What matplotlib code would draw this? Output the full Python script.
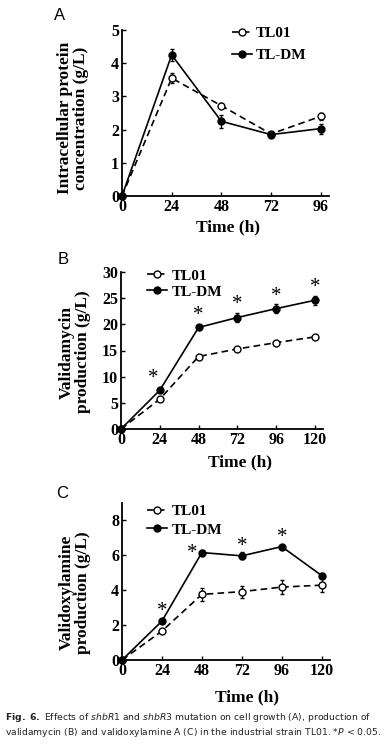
import matplotlib
matplotlib.use("Agg")
import matplotlib.pyplot as plt

# ---- data ----
time_a = [0, 24, 48, 72, 96]
a_tl01 = [0, 3.55, 2.72, 1.87, 2.40]
a_tl01_err = [0, 0.15, 0.08, 0.06, 0.10]
a_tldm = [0, 4.25, 2.25, 1.85, 2.03]
a_tldm_err = [0, 0.17, 0.20, 0.08, 0.15]

time_bc = [0, 24, 48, 72, 96, 120]
b_tl01 = [0, 5.7, 13.85, 15.3, 16.5, 17.6]
b_tl01_err = [0, 0.3, 0.3, 0.4, 0.3, 0.4]
b_tldm = [0, 7.4, 19.4, 21.3, 23.0, 24.6]
b_tldm_err = [0, 0.3, 0.4, 0.9, 0.9, 0.9]
b_star_x = [20, 48, 72, 96, 120]
b_star_y = [9.6, 21.6, 23.7, 25.4, 27.1]

c_tl01 = [0, 1.66, 3.76, 3.92, 4.18, 4.29]
c_tl01_err = [0, 0.08, 0.35, 0.35, 0.40, 0.40]
c_tldm = [0, 2.23, 6.16, 5.97, 6.50, 4.84]
c_tldm_err = [0, 0.08, 0.12, 0.20, 0.10, 0.12]
c_star_x = [24, 42, 72, 96]
c_star_y = [2.8, 6.1, 6.5, 7.05]

xt_a = [0, 24, 48, 72, 96]
xt_bc = [0, 24, 48, 72, 96, 120]
yt_a = [0, 1, 2, 3, 4, 5]
yt_b = [0, 5, 10, 15, 20, 25, 30]
yt_c = [0, 2, 4, 6, 8]

SERIF = "Liberation Serif"
plt.rcParams["mathtext.fontset"] = "dejavusans"

W, H = 389, 745
fig = plt.figure(figsize=(W / 100, H / 100), dpi=100)


def ax_rect(l, r, b, t):
    return [l / W, 1 - b / H, (r - l) / W, (b - t) / H]


def style(ax, xt, yt, xlim, ylim):
    ax.set_xlim(*xlim)
    ax.set_ylim(*ylim)
    ax.set_xticks(xt)
    ax.set_yticks(yt)
    for s in ("top", "right"):
        ax.spines[s].set_visible(False)
    for s in ("left", "bottom"):
        ax.spines[s].set_linewidth(1.3)
    ax.tick_params(direction="in", length=3, width=1.0, pad=2)
    for lab in ax.get_xticklabels() + ax.get_yticklabels():
        lab.set_fontfamily(SERIF)
        lab.set_fontweight("bold")
        lab.set_fontsize(11.5)


def series(ax, x, y1, e1, y2, e2):
    ax.errorbar(x, y1, yerr=e1, fmt="none", ecolor="black", elinewidth=0.9, capsize=1.5,
                clip_on=False, zorder=2)
    ax.errorbar(x, y2, yerr=e2, fmt="none", ecolor="black", elinewidth=0.9, capsize=1.5,
                clip_on=False, zorder=2)
    l1, = ax.plot(x, y1, "--o", color="black", mfc="white", mec="black", ms=5, lw=1.2,
                  mew=1.0, dashes=(4, 2.5), label="TL01", clip_on=False, zorder=3)
    l2, = ax.plot(x, y2, "-o", color="black", mfc="black", mec="black", ms=5, lw=1.2,
                  label="TL-DM", clip_on=False, zorder=4)
    return [l1, l2]


def legend(ax, handles, anchor, spacing):
    ax.legend(handles=handles, loc="upper left", bbox_to_anchor=anchor, frameon=False,
              handlelength=1.3, handletextpad=0.3, labelspacing=spacing,
              borderaxespad=0, borderpad=0,
              prop={"family": SERIF, "weight": "bold", "size": 11})


def labels(ax, ylab, ylx, yly, xlx, xly, panel, px, py):
    ax.text(ylx, yly, ylab, transform=ax.transAxes, rotation=90, ha="center", va="center",
            multialignment="center", fontfamily=SERIF, fontweight="bold", fontsize=12.5,
            linespacing=1.0)
    ax.text(xlx, xly, "Time (h)", transform=ax.transAxes, ha="center", va="center",
            fontfamily=SERIF, fontweight="bold", fontsize=12.5)
    fig.text(px / W, 1 - py / H, panel, ha="center", va="center",
             fontfamily="Liberation Sans", fontsize=12)


def stars(ax, xs, ys):
    for x, y in zip(xs, ys):
        ax.text(x, y, "*", ha="center", va="center", fontfamily=SERIF, fontsize=15)


# Panel A
axA = fig.add_axes(ax_rect(122, 329, 196, 30))
hA = series(axA, time_a, a_tl01, a_tl01_err, a_tldm, a_tldm_err)
style(axA, xt_a, yt_a, (0, 100), (0, 5))
legend(axA, hA, (0.53, 1.02), 0.55)
labels(axA, "Intracellular protein\nconcentration (g/L)", -0.235, 0.47, 0.51, -0.19, "A", 60, 16)

# Panel B
axB = fig.add_axes(ax_rect(121, 323, 429, 272))
hB = series(axB, time_bc, b_tl01, b_tl01_err, b_tldm, b_tldm_err)
style(axB, xt_bc, yt_b, (0, 125), (0, 30))
legend(axB, hB, (0.13, 1.02), 0.15)
stars(axB, b_star_x, b_star_y)
labels(axB, "Validamycin\nproduction (g/L)", -0.228, 0.49, 0.59, -0.21, "B", 63, 259)

# Panel C
axC = fig.add_axes(ax_rect(122, 330, 660, 503))
hC = series(axC, time_bc, c_tl01, c_tl01_err, c_tldm, c_tldm_err)
style(axC, xt_bc, yt_c, (0, 125), (0, 9))
legend(axC, hC, (0.12, 0.99), 0.3)
stars(axC, c_star_x, c_star_y)
labels(axC, "Validoxylamine\nproduction (g/L)", -0.226, 0.43, 0.60, -0.24, "C", 62, 494)

# Caption
cap = (r"$\mathbf{Fig.\ 6.}$ Effects of $\mathit{shbR1}$ and $\mathit{shbR3}$ mutation on "
       r"cell growth (A), production of" "\n"
       r"validamycin (B) and validoxylamine A (C) in the industrial strain TL01. "
       r"*$\mathit{P}$ < 0.05.")
fig.text(5 / W, 1 - 725 / H, cap, ha="left", va="center", fontfamily="DejaVu Sans",
         fontsize=6.7, color="#222222", linespacing=1.2)

fig.savefig("out.png", dpi=100)
